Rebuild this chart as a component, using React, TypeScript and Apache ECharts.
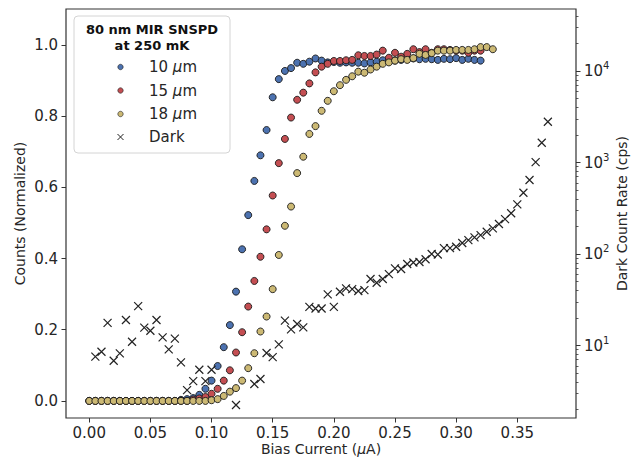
import React, { useEffect, useRef } from 'react';
import * as echarts from 'echarts';

// Bias current grid (µA)
const biasCurrent = [
  0.000, 0.005, 0.010, 0.015, 0.020, 0.025, 0.030, 0.035, 0.040, 0.045,
  0.050, 0.055, 0.060, 0.065, 0.070, 0.075, 0.080, 0.085, 0.090, 0.095,
  0.100, 0.105, 0.110, 0.115, 0.120, 0.125, 0.130, 0.135, 0.140, 0.145,
  0.150, 0.155, 0.160, 0.165, 0.170, 0.175, 0.180, 0.185, 0.190, 0.195,
  0.200, 0.205, 0.210, 0.215, 0.220, 0.225, 0.230, 0.235, 0.240, 0.245,
  0.250, 0.255, 0.260, 0.265, 0.270, 0.275, 0.280, 0.285, 0.290, 0.295,
  0.300, 0.305, 0.310, 0.315, 0.320, 0.325, 0.330, 0.335, 0.340, 0.345,
  0.350, 0.355, 0.360, 0.365, 0.370, 0.375,
];

// Normalized counts, 10 µm (0.000 .. 0.320)
const counts10um = [
  0, 0, 0, 0, 0, 0, 0, 0, 0, 0, 0, 0, 0, 0, 0,
  0.003, 0.005, 0.008, 0.017, 0.034, 0.057, 0.098, 0.151, 0.213, 0.307,
  0.426, 0.522, 0.618, 0.690, 0.761, 0.853, 0.904, 0.927, 0.935, 0.950,
  0.947, 0.953, 0.962, 0.956, 0.951, 0.952, 0.950, 0.951, 0.950, 0.950,
  0.948, 0.951, 0.953, 0.957, 0.955, 0.956, 0.958, 0.960, 0.962, 0.960,
  0.961, 0.960, 0.958, 0.961, 0.960, 0.963, 0.958, 0.961, 0.958, 0.956,
];

// Normalized counts, 15 µm (0.000 .. 0.320)
const counts15um = [
  0, 0, 0, 0, 0, 0, 0, 0, 0, 0, 0, 0, 0, 0, 0, 0, 0,
  0.004, 0.007, 0.011, 0.020, 0.034, 0.057, 0.086, 0.136,
  0.193, 0.265, 0.337, 0.405, 0.482, 0.577, 0.668, 0.736, 0.796, 0.846,
  0.866, 0.892, 0.923, 0.939, 0.947, 0.955, 0.955, 0.957, 0.958, 0.971,
  0.969, 0.969, 0.973, 0.984, 0.964, 0.978, 0.967, 0.975, 0.988, 0.980,
  0.988, 0.978, 0.988, 0.988, 0.986, 0.984, 0.984, 0.978, 0.984, 0.984,
];

// Normalized counts, 18 µm (0.000 .. 0.330)
const counts18um = [
  0, 0, 0, 0, 0, 0, 0, 0, 0, 0, 0, 0, 0, 0, 0, 0, 0, 0, 0, 0,
  0.002, 0.005, 0.014, 0.026, 0.036, 0.057, 0.092, 0.134, 0.195, 0.237,
  0.314, 0.410, 0.492, 0.546, 0.640, 0.686, 0.750, 0.772, 0.815, 0.843,
  0.870, 0.887, 0.902, 0.912, 0.925, 0.922, 0.931, 0.939, 0.947, 0.951,
  0.956, 0.960, 0.958, 0.963, 0.975, 0.972, 0.977, 0.984, 0.984, 0.984,
  0.986, 0.986, 0.986, 0.988, 0.994, 0.994, 0.988,
];

// Dark count rate (cps), null = not shown
const darkCounts = [
  null, 7.56, 8.55, 17.7, 6.82, 8.22, 19.0, 11.0, 27.0, 15.7,
  14.5, 19.0, 12.3, 9.08, 11.9, 6.55, 3.26, 4.09, 5.44, 4.09,
  5.44, null, null, null, 2.24, null, null, 3.80, 4.31, 8.28,
  7.48, 10.3, 18.7, 15.0, 17.2, 15.8, 26.5, 25.4, 25.4, 36.3,
  26.5, 38.7, 42.2, 41.4, 39.4, 40.4, 53.3, 48.6, 53.3, 60.4,
  69.8, 68.6, 77.8, 80.8, 81.8, 87.6, 100, 98.8, 116, 116,
  120, 132, 142, 152, 161, 175, 191, 213, 241, 279,
  349, 468, 644, 1012, 1644, 2790,
];

const xTicks = [0, 0.05, 0.1, 0.15, 0.2, 0.25, 0.3, 0.35];
const countTicks = [0, 0.2, 0.4, 0.6, 0.8, 1.0];
const darkDecadeExponents = [1, 2, 3, 4];
const minorMultipliers = [2, 3, 4, 5, 6, 7, 8, 9];
const minorDecadeExponents = [0, 1, 2, 3, 4];

const legendTitle = ['80 nm MIR SNSPD', 'at 250 mK'];
const seriesLabels = ['10', '15', '18'];
const seriesColors = ['#4C72B0', '#C44E52', '#CCB974'];

const FONT = 'DejaVu Sans';
const TEXT = '#262626';
const FRAME = '#333333';

const X_MIN = -0.019, X_MAX = 0.398;
const Y_MIN = -0.048, Y_MAX = 1.101;
const LOG_MIN = 0.208, LOG_MAX = 4.678;

export default function App() {
  const ref = useRef<HTMLDivElement>(null);
  useEffect(() => {
    if (!ref.current) return;
    const chart = echarts.init(ref.current, undefined, { renderer: 'svg' });

    const countSeries = [counts10um, counts15um, counts18um].map((arr, k) => ({
      type: 'scatter',
      name: seriesLabels[k],
      xAxisIndex: 0,
      yAxisIndex: 0,
      symbol: 'circle',
      symbolSize: 7,
      itemStyle: { color: seriesColors[k], borderColor: '#1a1a1a', borderWidth: 0.9, opacity: 1 },
      data: arr.map((v, i) => [biasCurrent[i], v]),
      silent: true,
    }));

    const darkData: number[][] = [];
    darkCounts.forEach((v, i) => {
      if (v != null) darkData.push([biasCurrent[i], Math.log10(v)]);
    });

    const minorVals: number[] = [];
    minorDecadeExponents.forEach((e) =>
      minorMultipliers.forEach((m) => {
        const lv = Math.log10(m * Math.pow(10, e));
        if (lv > LOG_MIN && lv < LOG_MAX) minorVals.push(lv);
      })
    );

    const legendX = 74, legendY = 16;
    const entryYs = [67, 90.5, 114, 137];
    const graphic: any[] = [
      {
        type: 'rect',
        shape: { x: legendX, y: legendY, width: 156, height: 137, r: 4 },
        style: { fill: 'rgba(255,255,255,0.85)', stroke: '#d4d4d4', lineWidth: 1 },
        z: 100,
      },
      ...legendTitle.map((t, i) => ({
        type: 'text',
        x: 152,
        y: 29 + i * 16,
        style: {
          text: t, fill: '#111', font: `bold 13px "${FONT}"`,
          textAlign: 'center', textVerticalAlign: 'middle',
        },
        z: 101,
      })),
      ...seriesColors.map((c, i) => ({
        type: 'circle',
        shape: { cx: 120.5, cy: entryYs[i], r: 2.7 },
        style: { fill: c, stroke: '#1a1a1a', lineWidth: 0.6 },
        z: 101,
      })),
      ...seriesLabels.map((s, i) => ({
        type: 'text',
        x: 149,
        y: entryYs[i],
        style: {
          text: `${s} {i|μ}m`, fill: TEXT, fontSize: 15, fontFamily: FONT,
          textVerticalAlign: 'middle',
          rich: { i: { fontStyle: 'italic', fontSize: 15, fontFamily: FONT, fill: TEXT } },
        },
        z: 101,
      })),
      {
        type: 'line',
        shape: { x1: 117.5, y1: entryYs[3] - 3, x2: 123.5, y2: entryYs[3] + 3 },
        style: { stroke: '#222', lineWidth: 1 },
        z: 101,
      },
      {
        type: 'line',
        shape: { x1: 117.5, y1: entryYs[3] + 3, x2: 123.5, y2: entryYs[3] - 3 },
        style: { stroke: '#222', lineWidth: 1 },
        z: 101,
      },
      {
        type: 'text',
        x: 149,
        y: entryYs[3],
        style: { text: 'Dark', fill: TEXT, fontSize: 15, fontFamily: FONT, textVerticalAlign: 'middle' },
        z: 101,
      },
    ];

    const option: any = {
      animation: false,
      backgroundColor: '#ffffff',
      textStyle: { fontFamily: FONT },
      grid: {
        left: 66, right: 57, top: 9, bottom: 43,
        show: true, borderColor: FRAME, borderWidth: 1.2,
        containLabel: false, outerBoundsMode: 'none',
      },
      xAxis: {
        type: 'value',
        position: 'bottom',
        min: X_MIN, max: X_MAX,
        splitLine: { show: false },
        axisLine: { show: false, onZero: false },
        axisTick: { show: true, inside: false, length: 4.5, customValues: xTicks, lineStyle: { color: FRAME, width: 1 } },
        axisLabel: {
          customValues: xTicks, color: TEXT, fontSize: 15, fontFamily: FONT, margin: 7,
          formatter: (v: number) => v.toFixed(2),
        },
        name: 'Bias Current ({i|μ}A)',
        nameLocation: 'middle',
        nameGap: 24,
        nameMoveOverlap: false,
        nameTextStyle: {
          color: TEXT, fontSize: 14, fontFamily: FONT,
          rich: { i: { fontStyle: 'italic', fontSize: 14, fontFamily: FONT, color: TEXT } },
        },
      },
      yAxis: [
        {
          type: 'value',
          position: 'left',
          min: Y_MIN, max: Y_MAX,
          splitLine: { show: false },
          axisLine: { show: false, onZero: false },
          axisTick: { show: true, length: 4.5, customValues: countTicks, lineStyle: { color: FRAME, width: 1 } },
          axisLabel: {
            customValues: countTicks, color: TEXT, fontSize: 15, fontFamily: FONT, margin: 8,
            formatter: (v: number) => v.toFixed(1),
          },
          name: 'Counts (Normalized)',
          nameLocation: 'middle',
          nameGap: 39,
          nameMoveOverlap: false,
          nameTextStyle: { color: TEXT, fontSize: 14, fontFamily: FONT },
        },
        {
          type: 'value',
          position: 'right',
          min: LOG_MIN, max: LOG_MAX,
          splitLine: { show: false },
          axisLine: { show: false, onZero: false },
          axisTick: { show: true, length: 4.5, customValues: darkDecadeExponents, lineStyle: { color: FRAME, width: 1 } },
          axisLabel: {
            customValues: darkDecadeExponents, color: TEXT, margin: 8,
            formatter: (v: number) => `{b|10}{s|${Math.round(v)}}`,
            rich: {
              b: { fontSize: 15, fontFamily: FONT, color: TEXT },
              s: { fontSize: 10, fontFamily: FONT, color: TEXT, padding: [0, 0, 11, 0] },
            },
          },
          name: 'Dark Count Rate (cps)',
          nameLocation: 'middle',
          nameGap: 39,
          nameRotate: 90,
          nameMoveOverlap: false,
          nameTextStyle: { color: TEXT, fontSize: 14, fontFamily: FONT },
        },
        {
          type: 'value',
          position: 'right',
          min: LOG_MIN, max: LOG_MAX,
          splitLine: { show: false },
          axisLine: { show: false, onZero: false },
          axisTick: { show: true, length: 2.5, customValues: minorVals, lineStyle: { color: FRAME, width: 0.8 } },
          axisLabel: { show: false },
        },
      ],
      series: [
        ...countSeries,
        {
          type: 'scatter',
          name: 'Dark',
          xAxisIndex: 0,
          yAxisIndex: 1,
          symbol: 'path://M0,0L10,10M0,10L10,0',
          symbolSize: 8,
          itemStyle: { color: 'rgba(0,0,0,0)', borderColor: '#222', borderWidth: 1.2, opacity: 1 },
          data: darkData,
          silent: true,
        },
      ],
      graphic,
    };
    chart.setOption(option);
    return () => chart.dispose();
  }, []);
  return <div ref={ref} style={{ position: 'fixed', left: 0, top: 0, width: 633, height: 461 }} />;
}
